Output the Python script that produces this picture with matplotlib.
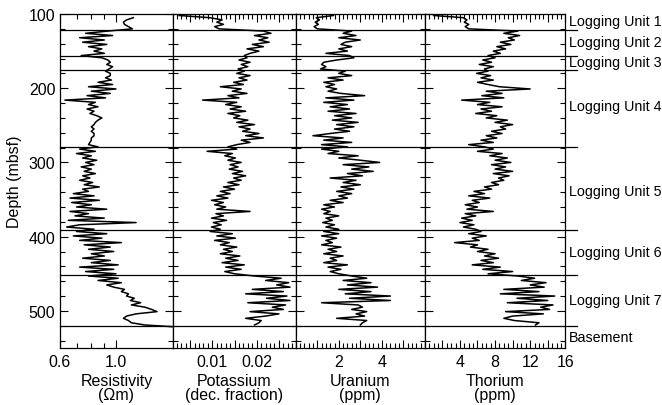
import matplotlib
matplotlib.use('Agg')
import numpy as np
import matplotlib.pyplot as plt
from matplotlib.ticker import FixedLocator, MultipleLocator, NullFormatter
from matplotlib.transforms import blended_transform_factory
from matplotlib.lines import Line2D

plt.rcParams['font.family'] = ['Liberation Sans', 'DejaVu Sans']
plt.rcParams['font.size'] = 11.5

nan = np.nan

### Data, one sample every 3 m from 102 to 522 mbsf
depth = np.arange(102, 523, 3)

resistivity = [
    nan, 1.17, 1.10, 1.07, 1.08, 1.12, 1.16,
    0.93, 0.76, 0.97, 0.72, 0.90, 0.74, 0.92, 0.78, 0.88, 0.82, 0.90, 0.73,
    0.88, 0.93, 0.95, 0.92, 0.97, 0.94,
    0.91, 0.95, 0.95, 0.91, 0.96, 0.85, 0.97, 0.78, 1.00, 0.80,
    0.95, 0.77, 0.91, 0.63, 0.83, 0.78, 0.85, 0.77, 0.82, 0.79,
    0.84, 0.88, 0.85, 0.83, 0.82, 0.80, 0.82, 0.80, 0.82, 0.82,
    0.80, 0.80, 0.79, 0.78,
    0.85, 0.72, 0.83, 0.70, 0.80, 0.74, 0.84, 0.76, 0.82, 0.73,
    0.80, 0.75, 0.83, 0.74, 0.79, 0.72, 0.81, 0.75, 0.86, 0.74,
    0.78, 0.68, 0.82, 0.66, 0.86, 0.67, 0.80, 0.70, 0.92, 0.66,
    0.78, 0.69, 0.90, 0.65, 1.20, 0.72, 0.64, 0.82,
    0.70, 0.92, 0.68, 0.88, 0.72, 1.05, 0.75, 0.95, 0.78, 0.98,
    0.80, 0.90, 0.74, 0.95, 0.80, 1.02, 0.72, 0.98, 0.76, 1.00,
    0.78, 1.02, 0.85, 1.05, 0.92, 0.98, 1.08, 1.05, 1.12, 1.10,
    1.18, 1.14, 1.25, 1.15, 1.30, 1.38, 1.45, 1.20, 1.10, 1.07,
    1.12, 1.15, 1.30,
    1.80]

potassium = [
    0.0025, 0.0095, 0.0122, 0.0110, 0.0125, 0.0105, 0.0115,
    0.0215, 0.0232, 0.0195, 0.0225, 0.0205, 0.0228, 0.0190, 0.0215, 0.0178, 0.0205, 0.0185, 0.0172,
    0.0178, 0.0160, 0.0185, 0.0165, 0.0180, 0.0158,
    0.0172, 0.0155, 0.0185, 0.0160, 0.0178, 0.0148, 0.0170, 0.0118, 0.0165, 0.0145,
    0.0178, 0.0135, 0.0160, 0.0078, 0.0155, 0.0130, 0.0165, 0.0140, 0.0175, 0.0135,
    0.0162, 0.0148, 0.0180, 0.0155, 0.0195, 0.0160, 0.0185, 0.0168, 0.0205, 0.0175,
    0.0215, 0.0165, 0.0185, 0.0155,
    0.0135, 0.0155, 0.0088, 0.0145, 0.0128, 0.0152, 0.0135, 0.0165, 0.0140, 0.0158,
    0.0138, 0.0168, 0.0145, 0.0175, 0.0148, 0.0165, 0.0135, 0.0160, 0.0125, 0.0150,
    0.0118, 0.0140, 0.0110, 0.0135, 0.0098, 0.0125, 0.0105, 0.0130, 0.0110, 0.0185,
    0.0108, 0.0125, 0.0098, 0.0132, 0.0102, 0.0120, 0.0098, 0.0118,
    0.0095, 0.0145, 0.0110, 0.0152, 0.0105, 0.0138, 0.0118, 0.0155, 0.0125, 0.0145,
    0.0118, 0.0162, 0.0130, 0.0158, 0.0122, 0.0172, 0.0130, 0.0165, 0.0128, 0.0150,
    0.0195, 0.0255, 0.0220, 0.0272, 0.0245, 0.0275, 0.0190, 0.0260, 0.0175, 0.0268,
    0.0222, 0.0275, 0.0180, 0.0265, 0.0235, 0.0260, 0.0185, 0.0250, 0.0220, 0.0175,
    0.0210, 0.0205, 0.0195,
    nan]

uranium = [
    1.75, 0.95, 1.10, 0.90, 1.05, 0.85, 1.00,
    2.6, 2.2, 2.8, 2.0, 3.0, 2.3, 2.1, 2.6, 2.0, 2.4, 1.4, 2.5,
    2.7, 1.9, 1.3, 1.2, 1.4, 1.15,
    2.3, 2.0, 2.6, 1.5, 2.2, 1.3, 1.8, 1.4, 1.9, 1.5,
    2.1, 3.2, 1.4, 2.7, 1.3, 2.4, 1.6, 2.5, 1.5, 2.8,
    1.8, 2.6, 1.7, 2.9, 1.9, 2.7, 1.8, 2.5, 1.6, 0.8,
    2.2, 1.3, 2.6, 1.2,
    2.4, 1.2, 2.0, 1.5, 2.9, 2.0, 3.0, 3.9, 2.2, 3.4,
    2.6, 3.6, 2.4, 3.1, 1.6, 2.8, 2.2, 3.0, 2.1, 2.7,
    1.9, 2.6, 2.0, 2.4, 1.6, 2.2, 1.3, 1.8, 1.2, 1.6,
    1.3, 2.0, 1.4, 1.7, 1.25, 1.8, 1.4, 2.0,
    1.3, 2.0, 1.2, 1.9, 1.4, 1.7, 1.2, 2.1, 1.5, 1.9,
    1.3, 2.2, 1.6, 1.9, 1.3, 2.4, 1.5, 2.1, 1.6, 2.0,
    2.6, 3.3, 2.2, 3.5, 2.4, 3.8, 2.0, 3.5, 2.3, 4.4,
    2.5, 4.4, 1.2, 2.9, 3.1, 2.6, 3.3, 2.8, 3.2, 1.9,
    3.3, 3.1, 3.0,
    nan]

thorium = [
    1.0, 4.4, 4.8, 4.5, 5.0, 4.6, 5.0,
    10.6, 9.0, 10.8, 9.5, 10.2, 8.6, 9.8, 8.2, 9.2, 7.8, 8.6, 7.2,
    8.0, 6.6, 7.6, 6.2, 7.8, 6.8,
    7.2, 5.9, 7.5, 6.4, 7.8, 6.0, 7.2, 8.5, 12.0, 7.0,
    8.8, 6.5, 9.0, 4.2, 7.4, 6.0, 8.8, 6.4, 7.6, 5.8,
    8.2, 7.0, 9.4, 8.0, 10.0, 8.6, 9.2, 7.6, 8.8, 7.0,
    8.2, 6.4, 7.8, 5.0,
    6.8, 7.8, 6.0, 8.8, 7.4, 9.4, 8.0, 9.8, 7.6, 9.2,
    8.0, 10.0, 7.8, 9.6, 8.4, 9.0, 7.6, 8.4, 6.8, 7.6,
    5.6, 6.8, 5.0, 7.4, 5.4, 6.2, 4.6, 6.0, 4.8, 7.8,
    4.6, 5.8, 4.2, 5.4, 4.0, 5.6, 4.4, 5.8,
    6.4, 5.0, 7.0, 5.4, 6.2, 3.4, 6.0, 5.2, 7.2, 6.0,
    8.0, 6.8, 8.4, 6.4, 7.8, 5.4, 8.6, 6.6, 10.0, 7.2,
    10.6, 12.5, 11.0, 13.8, 12.0, 13.6, 9.0, 13.0, 8.6, 14.8,
    10.5, 14.0, 9.4, 14.6, 13.2, 14.2, 9.2, 13.5, 10.0, 9.0,
    10.2, 13.0, 12.6,
    nan]

unit_boundaries = [122, 156, 175, 279, 391, 451, 520]
unit_labels = ['Logging Unit 1', 'Logging Unit 2', 'Logging Unit 3', 'Logging Unit 4',
               'Logging Unit 5', 'Logging Unit 6', 'Logging Unit 7', 'Basement']
unit_label_depths = [110, 138, 165, 224, 339, 421, 485, 535]

xlabels = ['Resistivity\n(\u03a9m)', 'Potassium\n(dec. fraction)', 'Uranium\n(ppm)', 'Thorium\n(ppm)']

### Figure layout (pixel based)
W, H = 662, 406
fig = plt.figure(figsize=(W / 100, H / 100), dpi=100)
edges = [59.5, 173.3, 295.8, 424.8, 565.3]
top_px, bot_px = 15, 349
axes = []
for i in range(4):
    ax = fig.add_axes([edges[i] / W, (H - bot_px) / H,
                       (edges[i + 1] - edges[i]) / W, (bot_px - top_px) / H])
    axes.append(ax)

curves = [resistivity, potassium, uranium, thorium]
for ax, vals, lab in zip(axes, curves, xlabels):
    ax.plot(vals, depth, color='black', lw=1.1)
    ax.set_ylim(550, 100)
    ax.yaxis.set_major_locator(MultipleLocator(100))
    ax.yaxis.set_minor_locator(MultipleLocator(20))
    ax.tick_params(which='both', direction='in', top=True, right=True,
                   width=0.8, labelsize=11.5)
    ax.tick_params(axis='x', pad=4.5)
    ax.tick_params(axis='y', pad=3)
    ax.tick_params(which='major', length=6)
    ax.tick_params(which='minor', length=3.5)
    ax.set_xlabel(lab, fontsize=11.5, labelpad=2.5, linespacing=0.95)
    for s in ax.spines.values():
        s.set_linewidth(0.9)

# Resistivity - log scale
ax = axes[0]
ax.set_xscale('log')
ax.set_xlim(0.6, 1.68)
ax.xaxis.set_major_locator(FixedLocator([0.6, 1.0]))
ax.set_xticklabels(['0.6', '1.0'])
ax.xaxis.set_minor_locator(FixedLocator([0.7, 0.8, 0.9]))
ax.xaxis.set_minor_formatter(NullFormatter())
ax.set_ylabel('Depth (mbsf)', fontsize=11.5, labelpad=5)

# Potassium
ax = axes[1]
ax.set_xlim(0.0012, 0.0288)
ax.xaxis.set_major_locator(FixedLocator([0.005, 0.01, 0.015, 0.02, 0.025]))
ax.set_xticklabels(['', '0.01', '', '0.02', ''])
ax.xaxis.set_minor_locator(MultipleLocator(0.001))

# Uranium
ax = axes[2]
ax.set_xlim(0, 6)
ax.xaxis.set_major_locator(FixedLocator([1, 2, 3, 4, 5]))
ax.set_xticklabels(['', '2', '', '4', ''])
ax.xaxis.set_minor_locator(MultipleLocator(0.2))

# Thorium
ax = axes[3]
ax.set_xlim(0, 16)
ax.xaxis.set_major_locator(FixedLocator([2, 4, 6, 8, 10, 12, 14, 16]))
ax.set_xticklabels(['', '4', '', '8', '', '12', '', '16'])
ax.xaxis.set_minor_locator(MultipleLocator(0.5))

for ax in axes[1:]:
    ax.tick_params(labelleft=False)

### Unit boundaries across all panels and unit labels on the right
trans = blended_transform_factory(fig.transFigure, axes[0].transData)
for d in unit_boundaries:
    fig.add_artist(Line2D([edges[0] / W, 577 / W], [d, d], transform=trans,
                          color='black', lw=0.9, zorder=5))
for lab, d in zip(unit_labels, unit_label_depths):
    axes[0].text(569 / W, d, lab, transform=trans, va='center', ha='left',
                 fontsize=10.3, clip_on=False)

fig.savefig('out.png', dpi=100)
